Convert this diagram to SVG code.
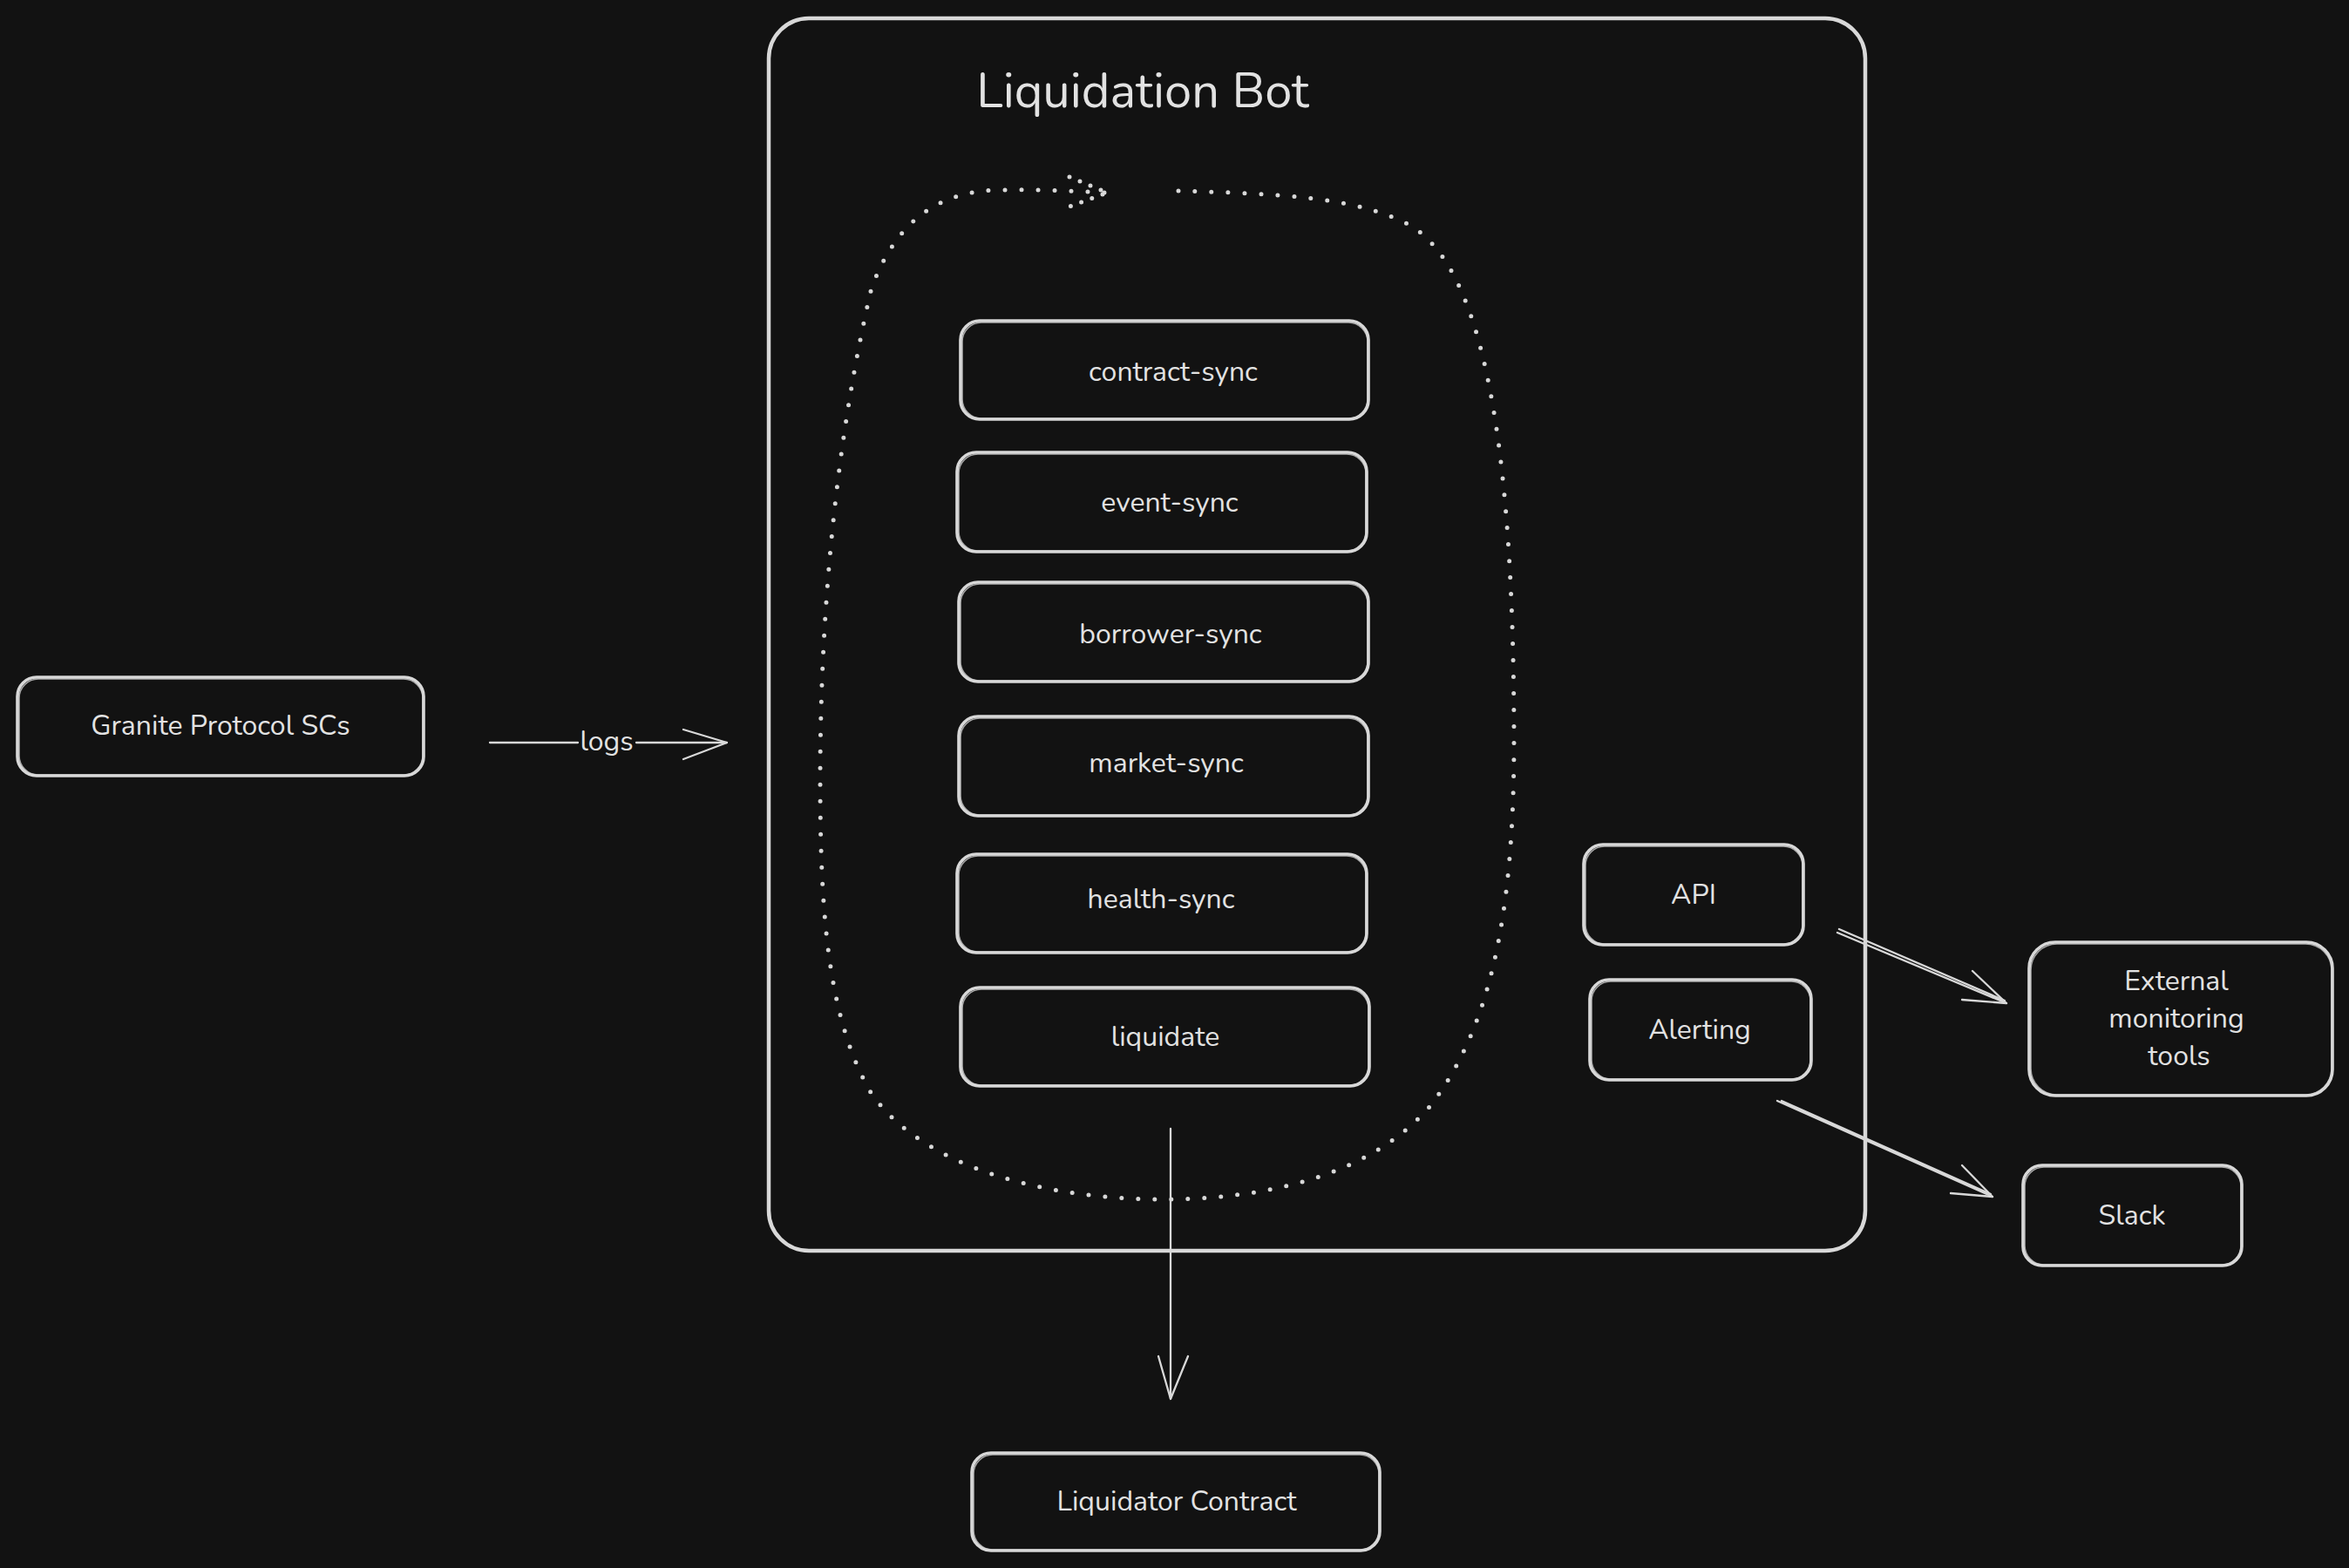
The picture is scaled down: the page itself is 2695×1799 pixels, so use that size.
<svg xmlns="http://www.w3.org/2000/svg" width="2695" height="1799" viewBox="0 0 2695 1799">
<defs>
<style>
.bg{fill:#121212}
.box{fill:none;stroke:#d8d8d8;stroke-width:3.6;stroke-linejoin:round}
.box2{fill:none;stroke:#d8d8d8;stroke-width:1.6;opacity:0.75}
.frame{fill:none;stroke:#d8d8d8;stroke-width:4.5}
.t{font-family:"Nunito","Open Sans","Noto Sans",sans-serif;font-size:32px;fill:#e2e2e2;text-anchor:middle}
.title{font-family:"Nunito","Open Sans","Noto Sans",sans-serif;font-size:56px;fill:#e2e2e2;text-anchor:middle}
.ln{fill:none;stroke:#d8d8d8;stroke-width:2.3;stroke-linecap:round;stroke-linejoin:round}
.dot{fill:none;stroke:#d8d8d8;stroke-width:5;stroke-linecap:round;stroke-dasharray:0 19}
</style>
</defs>
<rect class="bg" x="0" y="0" width="2695" height="1799"/>

<g id="liquidation-bot">
<rect class="frame" x="882" y="21" width="1258" height="1414" rx="46"/>
<text class="title" x="1311" y="123">Liquidation Bot</text>
</g>

<g id="granite">
<rect class="box" x="20" y="777" width="466" height="113" rx="22"/>
<rect class="box2" x="22" y="779" width="463" height="110" rx="22"/>
<text class="t" x="253" y="843">Granite Protocol SCs</text>
</g>

<g id="contract-sync">
<rect class="box" x="1102" y="368" width="468" height="113" rx="22"/>
<rect class="box2" x="1104" y="370" width="465" height="110" rx="22"/>
<text class="t" x="1346" y="437">contract-sync</text>
</g>

<g id="event-sync">
<rect class="box" x="1098" y="519" width="470" height="114" rx="22"/>
<rect class="box2" x="1100" y="521" width="467" height="111" rx="22"/>
<text class="t" x="1342" y="587">event-sync</text>
</g>

<g id="borrower-sync">
<rect class="box" x="1100" y="668" width="470" height="114" rx="22"/>
<rect class="box2" x="1102" y="670" width="467" height="111" rx="22"/>
<text class="t" x="1343" y="738">borrower-sync</text>
</g>

<g id="market-sync">
<rect class="box" x="1100" y="822" width="470" height="114" rx="22"/>
<rect class="box2" x="1102" y="824" width="467" height="111" rx="22"/>
<text class="t" x="1338" y="886">market-sync</text>
</g>

<g id="health-sync">
<rect class="box" x="1098" y="980" width="470" height="113" rx="22"/>
<rect class="box2" x="1100" y="982" width="467" height="110" rx="22"/>
<text class="t" x="1332" y="1042">health-sync</text>
</g>

<g id="liquidate">
<rect class="box" x="1102" y="1133" width="469" height="113" rx="22"/>
<rect class="box2" x="1104" y="1135" width="466" height="110" rx="22"/>
<text class="t" x="1337" y="1200">liquidate</text>
</g>

<g id="api">
<rect class="box" x="1817" y="969" width="252" height="115" rx="22"/>
<rect class="box2" x="1819" y="971" width="249" height="112" rx="22"/>
<text class="t" x="1943" y="1037">API</text>
</g>

<g id="alerting">
<rect class="box" x="1824" y="1124" width="254" height="115" rx="22"/>
<rect class="box2" x="1826" y="1126" width="251" height="112" rx="22"/>
<text class="t" x="1950" y="1192">Alerting</text>
</g>

<g id="external-monitoring">
<rect class="box" x="2328" y="1081" width="348" height="176" rx="30"/>
<rect class="box2" x="2330" y="1083" width="345" height="173" rx="30"/>
<text class="t" x="2497" y="1136">External</text>
<text class="t" x="2497" y="1179">monitoring</text>
<text class="t" x="2500" y="1222">tools</text>
</g>

<g id="slack">
<rect class="box" x="2321" y="1337" width="251" height="115" rx="22"/>
<rect class="box2" x="2323" y="1339" width="248" height="112" rx="22"/>
<text class="t" x="2446" y="1405">Slack</text>
</g>

<g id="liquidator-contract">
<rect class="box" x="1115" y="1667" width="468" height="112" rx="22"/>
<rect class="box2" x="1117" y="1669" width="465" height="109" rx="22"/>
<text class="t" x="1350" y="1733">Liquidator Contract</text>
</g>

<g id="connectors">
<path class="dot" d="M1352,219 C1450,222 1560,224 1620,260 C1700,310 1737,500 1737,850 C1737,1050 1710,1180 1640,1270 C1570,1350 1450,1376 1334,1376 C1200,1376 1060,1340 1000,1255 C950,1170 941,1050 941,894 C941,700 960,500 1000,330 C1030,250 1080,218 1150,218 C1200,217 1240,220 1270,221"/>
<path class="dot" style="stroke-dasharray:0 13" d="M1227,203 L1270,221 L1227,237"/>

<path class="ln" d="M562,852 L663,852 M730,852 L834,852"/>
<path class="ln" d="M784,837 L834,852 L784,871"/>
<text class="t" x="696" y="861">logs</text>

<path class="ln" d="M1343,1295 L1343,1605"/>
<path class="ln" d="M1329,1556 L1343,1605 L1363,1556"/>

<path class="ln" d="M2108,1070 L2302,1151 M2110,1066 L2300,1148"/>
<path class="ln" d="M2263,1114 L2302,1151 L2251,1147"/>

<path class="ln" d="M2039,1263 L2286,1373 M2044,1263 L2284,1370"/>
<path class="ln" d="M2251,1337 L2286,1373 L2238,1369"/>
</g>
</svg>
